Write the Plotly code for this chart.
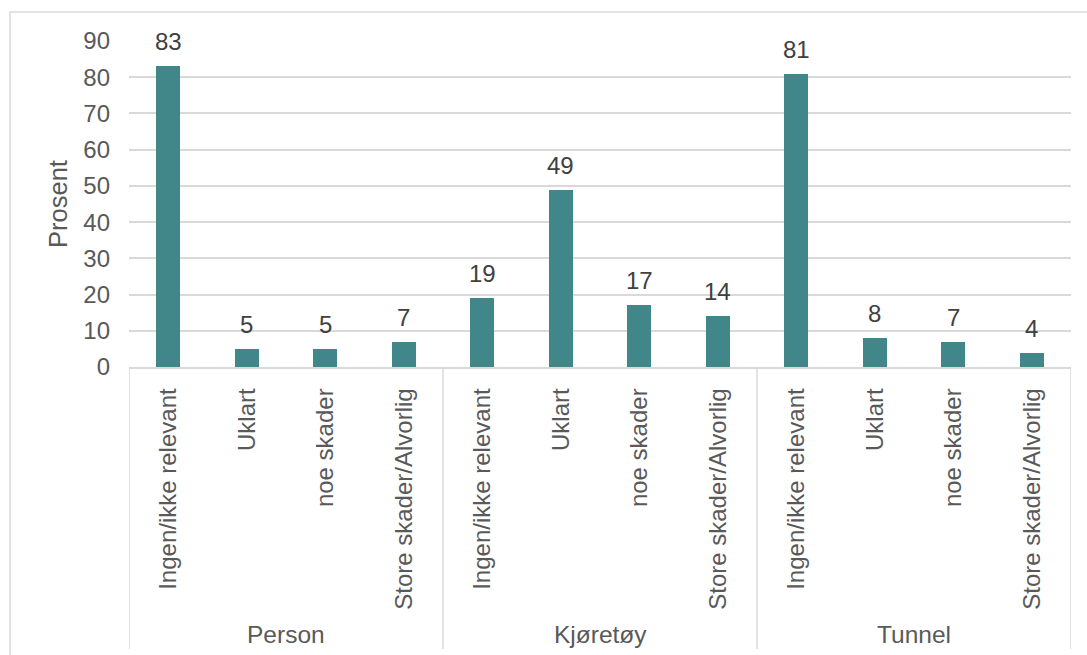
import plotly.graph_objects as go

# Chart data
groups = ["Person", "Kjøretøy", "Tunnel"]
subcategories = ["Ingen/ikke relevant", "Uklart", "noe skader", "Store skader/Alvorlig"]
person_values = [83, 5, 5, 7]
kjoretoy_values = [19, 49, 17, 14]
tunnel_values = [81, 8, 7, 4]
y_ticks = [0, 10, 20, 30, 40, 50, 60, 70, 80, 90]

values = person_values + kjoretoy_values + tunnel_values
labels = subcategories * len(groups)
positions = list(range(len(values)))

FONT = "Liberation Sans, Arial, sans-serif"
TEXT_GRAY = "#595959"
LINE_GRAY = "#d9d9d9"
BAR_COLOR = "#41878a"

fig = go.Figure()
fig.add_trace(go.Bar(
    x=positions,
    y=values,
    width=0.31,
    marker=dict(color=BAR_COLOR, line=dict(width=0)),
    hoverinfo="y",
    showlegend=False,
))

# Value labels above bars
for xi, v in zip(positions, values):
    fig.add_annotation(
        x=xi, y=v, xref="x", yref="y",
        text=str(v), showarrow=False,
        yanchor="bottom", yshift=9,
        font=dict(family=FONT, size=24, color="#404040"),
    )

# Group separators below the category axis
n_sub = len(subcategories)
sep_bottom = -0.865
for g in range(len(groups) + 1):
    xs = g * n_sub - 0.5
    fig.add_shape(type="line", xref="x", yref="paper",
                  x0=xs, x1=xs, y0=0, y1=sep_bottom,
                  line=dict(color=LINE_GRAY, width=1.5))

for g, name in enumerate(groups):
    fig.add_annotation(
        x=g * n_sub + (n_sub - 1) / 2, y=-0.822, xref="x", yref="paper",
        text=name, showarrow=False, yanchor="middle",
        font=dict(family=FONT, size=24.5, color=TEXT_GRAY),
    )

# Outer chart frame (right and bottom edges fall outside the page)
fig.add_shape(type="rect", xref="paper", yref="paper",
              x0=-0.1263, x1=1.05, y0=-0.95, y1=1.089,
              line=dict(color=LINE_GRAY, width=1.5), layer="below")

fig.update_layout(
    width=1087, height=655,
    margin=dict(l=129, r=16, t=41, b=288),
    paper_bgcolor="white", plot_bgcolor="white",
    font=dict(family=FONT, size=24, color=TEXT_GRAY),
    bargap=0,
    xaxis=dict(
        range=[-0.5, len(values) - 0.5],
        tickvals=positions, ticktext=labels,
        tickangle=-90,
        tickfont=dict(family=FONT, size=24, color=TEXT_GRAY),
        showgrid=False, zeroline=False,
        showline=True, linecolor=LINE_GRAY, linewidth=1.5,
        ticks="", ticklabelstandoff=10,
    ),
    yaxis=dict(
        range=[0, 90],
        tickvals=y_ticks,
        tickfont=dict(family=FONT, size=24, color=TEXT_GRAY),
        showgrid=True, gridcolor=LINE_GRAY, gridwidth=1.5,
        zeroline=False, showline=False, ticks="",
        ticklabelstandoff=18,
        title=dict(text="Prosent", standoff=8,
                   font=dict(family=FONT, size=25.5, color=TEXT_GRAY)),
    ),
)

fig.write_html("out.html")
